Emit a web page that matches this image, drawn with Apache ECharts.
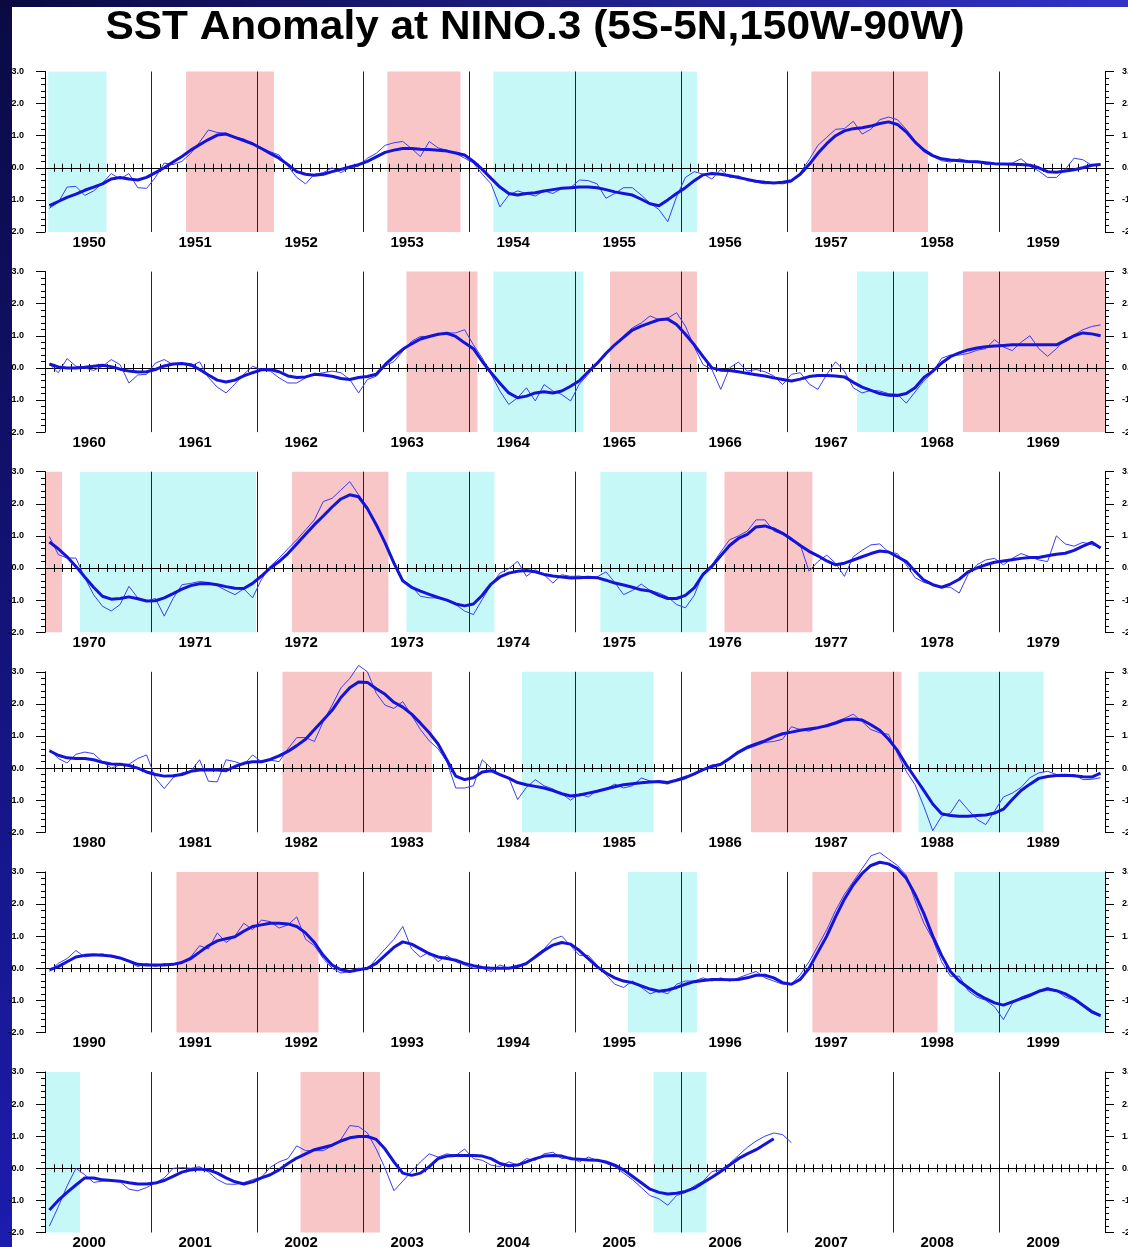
<!DOCTYPE html>
<html><head><meta charset="utf-8">
<script src="https://cdn.jsdelivr.net/npm/echarts@6/dist/echarts.min.js"></script>
<style>html,body{margin:0;padding:0;background:#fff;}#c{width:1128px;height:1247px;}</style>
</head><body><div id="c"></div>
<script>
const decades = [1950, 1960, 1970, 1980, 1990, 2000];
const yearLabels = ['1950','1951','1952','1953','1954','1955','1956','1957','1958','1959',
'1960','1961','1962','1963','1964','1965','1966','1967','1968','1969',
'1970','1971','1972','1973','1974','1975','1976','1977','1978','1979',
'1980','1981','1982','1983','1984','1985','1986','1987','1988','1989',
'1990','1991','1992','1993','1994','1995','1996','1997','1998','1999',
'2000','2001','2002','2003','2004','2005','2006','2007','2008','2009'];
const warmEvents = [[1951.33,1952.16],[1953.23,1953.92],[1957.23,1958.33],[1963.41,1964.08],[1965.33,1966.15],[1968.66,1970.16],[1972.33,1973.24],[1976.41,1977.24],[1982.24,1983.65],[1986.66,1988.08],[1991.24,1992.58],[1997.24,1998.42],[2002.41,2003.16]];
const coldEvents = [[1950.03,1950.58],[1954.23,1956.15],[1964.23,1965.08],[1967.66,1968.33],[1970.33,1971.99],[1973.41,1974.24],[1975.24,1976.24],[1984.5,1985.74],[1988.24,1989.42],[1995.5,1996.15],[1998.58,2000.33],[2005.74,2006.24]];

// monthly SST anomaly (thin line)
const sst1950s = [-1.26,-1.08,-0.6,-0.58,-0.86,-0.72,-0.48,-0.18,-0.35,-0.18,-0.62,-0.64,
-0.3,0.15,0.1,0.2,0.45,0.8,1.18,1.1,1.08,0.95,0.9,0.72,
0.62,0.5,0.4,0.05,-0.3,-0.5,-0.2,-0.15,0.0,-0.15,0.0,0.05,
0.3,0.45,0.7,0.78,0.82,0.6,0.35,0.82,0.62,0.55,0.45,0.3,
0.15,-0.2,-0.5,-1.22,-0.85,-0.72,-0.8,-0.88,-0.72,-0.8,-0.64,-0.62,
-0.38,-0.4,-0.5,-0.95,-0.8,-0.62,-0.62,-0.85,-1.1,-1.3,-1.68,-0.9,
-0.3,-0.12,-0.2,-0.35,-0.05,-0.3,-0.25,-0.4,-0.45,-0.5,-0.48,-0.5,
-0.45,-0.15,0.25,0.7,0.95,1.2,1.22,1.45,1.05,1.2,1.5,1.58,
1.5,1.2,0.85,0.5,0.35,0.22,0.18,0.28,0.2,0.2,0.1,0.12,
0.12,0.15,0.28,0.05,-0.1,-0.3,-0.3,-0.05,0.3,0.25,0.08,0.12];
const sst1960s = [0.12,-0.15,0.29,0.05,0.0,-0.08,0.05,0.26,0.1,-0.47,-0.22,-0.2,
0.15,0.26,0.1,0.12,0.05,0.19,-0.3,-0.6,-0.78,-0.5,-0.2,0.05,
-0.05,-0.1,-0.31,-0.47,-0.47,-0.31,-0.2,-0.15,-0.1,-0.15,-0.36,-0.78,
-0.36,-0.26,0.05,0.2,0.52,0.83,0.98,0.98,1.03,1.09,1.09,1.19,
0.72,0.31,-0.2,-0.72,-1.14,-0.93,-0.62,-1.03,-0.52,-0.72,-0.83,-1.03,
-0.5,-0.2,0.15,0.45,0.7,1.0,1.25,1.4,1.62,1.5,1.55,1.72,
1.3,0.65,0.1,-0.05,-0.67,0.0,0.18,-0.1,-0.05,-0.12,-0.25,-0.52,
-0.2,-0.15,-0.5,-0.67,-0.2,0.19,-0.1,-0.62,-0.78,-0.7,-0.72,-0.8,
-0.82,-1.1,-0.75,-0.4,-0.15,0.3,0.4,0.4,0.45,0.55,0.6,0.88,
0.65,0.54,0.8,1.0,0.6,0.36,0.6,0.9,1.03,1.19,1.29,1.34];
const sst1970s = [0.98,0.42,0.31,0.31,-0.3,-0.83,-1.19,-1.34,-1.14,-0.57,-0.93,-1.03,
-0.95,-1.5,-0.95,-0.52,-0.48,-0.42,-0.45,-0.55,-0.7,-0.83,-0.65,-0.93,
-0.36,0.05,0.31,0.6,0.88,1.19,1.5,2.07,2.17,2.43,2.69,2.28,
1.9,1.29,0.78,0.21,-0.36,-0.57,-0.88,-0.93,-0.93,-1.0,-1.14,-1.34,
-1.45,-0.98,-0.52,-0.16,-0.02,0.21,-0.26,-0.05,-0.21,-0.47,-0.21,-0.26,
-0.25,-0.3,-0.28,-0.12,-0.45,-0.83,-0.7,-0.5,-0.7,-0.78,-0.9,-1.14,
-1.24,-0.85,-0.15,0.1,0.5,0.88,1.0,1.15,1.5,1.5,1.15,1.05,
0.85,0.72,-0.1,0.2,0.4,0.15,-0.26,0.35,0.55,0.72,0.75,0.5,
0.45,0.1,-0.3,-0.45,-0.52,-0.6,-0.6,-0.78,-0.2,0.1,0.25,0.3,
0.1,0.3,0.45,0.35,0.25,0.2,1.0,0.75,0.68,0.8,0.72,0.65];
const sst1980s = [0.58,0.3,0.16,0.43,0.5,0.45,0.2,0.0,0.1,0.12,0.3,0.41,
-0.31,-0.64,-0.3,-0.15,-0.1,0.26,-0.41,-0.43,0.26,0.2,0.1,0.41,
0.2,0.25,0.2,0.6,0.95,0.95,0.83,1.45,1.96,2.5,2.79,3.2,
3.0,2.33,1.96,1.86,2.07,1.65,1.2,0.85,0.6,0.2,-0.62,-0.62,
-0.55,0.26,0.0,-0.2,-0.3,-0.98,-0.6,-0.36,-0.55,-0.65,-0.8,-1.0,
-0.8,-0.9,-0.7,-0.65,-0.5,-0.62,-0.55,-0.31,-0.4,-0.45,-0.5,-0.35,
-0.25,-0.2,-0.05,0.1,0.12,0.3,0.45,0.6,0.7,0.8,0.83,0.9,
1.29,1.2,1.15,1.25,1.35,1.45,1.55,1.68,1.45,1.2,1.1,1.05,
0.45,-0.1,-0.52,-1.2,-1.95,-1.5,-1.4,-0.98,-1.3,-1.6,-1.76,-1.34,
-0.9,-0.78,-0.6,-0.3,-0.15,-0.1,-0.2,-0.25,-0.2,-0.36,-0.35,-0.3];
const sst1990s = [-0.1,0.15,0.3,0.55,0.35,0.4,0.45,0.35,0.3,0.2,0.05,0.15,
0.05,0.15,0.1,0.2,0.35,0.7,0.6,1.1,0.8,1.0,1.4,1.2,
1.5,1.45,1.25,1.35,1.6,0.9,0.7,0.3,0.0,-0.15,-0.1,0.0,
-0.05,0.3,0.6,0.9,1.3,0.6,0.35,0.5,0.2,0.4,0.2,0.1,
0.0,0.0,-0.1,0.1,0.0,0.1,0.1,0.4,0.6,0.9,1.0,0.7,
0.4,0.4,0.1,-0.2,-0.5,-0.6,-0.4,-0.6,-0.8,-0.7,-0.8,-0.5,
-0.4,-0.4,-0.3,-0.4,-0.3,-0.4,-0.3,-0.2,-0.1,-0.3,-0.4,-0.5,
-0.5,-0.2,0.2,0.7,1.2,1.8,2.3,2.7,3.1,3.5,3.6,3.4,
3.2,2.9,2.1,1.4,0.9,0.2,-0.25,-0.25,-0.7,-0.9,-1.0,-1.2,
-1.6,-1.1,-0.9,-0.8,-0.7,-0.6,-0.7,-0.9,-1.0,-1.2,-1.4,-1.5];
const sst2000s = [-1.8,-1.2,-0.55,0.0,-0.2,-0.44,-0.4,-0.38,-0.42,-0.65,-0.7,-0.6,
-0.45,-0.3,0.0,0.02,0.0,0.05,-0.12,-0.35,-0.49,-0.5,-0.45,-0.35,
-0.28,0.03,0.2,0.3,0.7,0.55,0.55,0.55,0.7,0.9,1.33,1.3,
1.1,0.6,0.0,-0.7,-0.4,-0.1,0.2,0.45,0.35,0.45,0.4,0.6,
0.3,0.25,0.1,0.05,0.2,0.1,0.3,0.25,0.45,0.5,0.3,0.35,
0.2,0.35,0.25,0.15,0.05,-0.15,-0.35,-0.6,-0.85,-0.95,-1.15,-0.85,
-0.75,-0.55,-0.4,-0.1,-0.05,0.15,0.4,0.65,0.85,1.0,1.1,1.05,0.8];

// smoothed anomaly (thick line)
const smooth1950s = [-1.18,-1.05,-0.92,-0.82,-0.7,-0.6,-0.5,-0.35,-0.3,-0.35,-0.38,-0.3,
-0.15,0.0,0.18,0.35,0.55,0.72,0.88,1.02,1.05,0.95,0.85,0.75,
0.6,0.45,0.3,0.1,-0.12,-0.2,-0.23,-0.2,-0.12,-0.05,0.03,0.1,
0.2,0.34,0.48,0.55,0.6,0.6,0.58,0.57,0.55,0.52,0.46,0.4,
0.2,-0.05,-0.33,-0.6,-0.8,-0.85,-0.8,-0.78,-0.72,-0.68,-0.64,-0.62,
-0.6,-0.6,-0.62,-0.68,-0.75,-0.8,-0.85,-0.98,-1.12,-1.18,-1.0,-0.8,
-0.62,-0.4,-0.22,-0.18,-0.2,-0.25,-0.3,-0.36,-0.42,-0.45,-0.47,-0.45,
-0.4,-0.2,0.1,0.45,0.75,1.0,1.15,1.22,1.25,1.3,1.38,1.43,
1.35,1.12,0.8,0.55,0.38,0.28,0.24,0.22,0.2,0.19,0.16,0.13,
0.12,0.11,0.1,0.08,0.0,-0.12,-0.14,-0.1,-0.06,0.0,0.08,0.1];
const smooth1960s = [0.12,0.03,0.0,0.0,0.02,0.05,0.08,0.04,-0.04,-0.1,-0.13,-0.12,
-0.05,0.06,0.12,0.14,0.1,-0.05,-0.22,-0.38,-0.44,-0.38,-0.25,-0.15,
-0.06,-0.05,-0.12,-0.25,-0.3,-0.28,-0.2,-0.22,-0.26,-0.33,-0.36,-0.3,
-0.27,-0.2,0.1,0.35,0.58,0.75,0.9,0.98,1.05,1.08,0.98,0.78,
0.6,0.2,-0.15,-0.48,-0.78,-0.93,-0.88,-0.78,-0.74,-0.78,-0.72,-0.57,
-0.4,-0.12,0.14,0.45,0.72,0.95,1.18,1.3,1.4,1.5,1.52,1.35,
1.05,0.72,0.35,0.0,-0.07,-0.08,-0.12,-0.17,-0.21,-0.25,-0.31,-0.36,
-0.41,-0.35,-0.27,-0.24,-0.24,-0.25,-0.28,-0.45,-0.6,-0.7,-0.8,-0.85,
-0.86,-0.8,-0.62,-0.3,-0.1,0.15,0.35,0.47,0.56,0.62,0.66,0.68,
0.7,0.72,0.72,0.72,0.72,0.72,0.72,0.85,1.0,1.09,1.06,1.0];
const smooth1970s = [0.81,0.6,0.35,0.05,-0.28,-0.6,-0.88,-0.97,-0.95,-0.9,-0.96,-1.03,
-1.02,-0.93,-0.8,-0.66,-0.55,-0.49,-0.48,-0.52,-0.58,-0.63,-0.64,-0.48,
-0.25,0.0,0.2,0.45,0.75,1.05,1.35,1.62,1.9,2.15,2.28,2.22,
1.85,1.35,0.78,0.15,-0.4,-0.6,-0.72,-0.82,-0.92,-1.0,-1.12,-1.18,
-1.12,-0.85,-0.5,-0.28,-0.16,-0.1,-0.08,-0.12,-0.2,-0.25,-0.28,-0.31,
-0.3,-0.29,-0.3,-0.38,-0.47,-0.53,-0.6,-0.68,-0.72,-0.85,-0.95,-0.95,
-0.85,-0.62,-0.2,0.05,0.38,0.7,0.92,1.05,1.28,1.31,1.22,1.08,
0.9,0.7,0.52,0.38,0.22,0.1,0.15,0.25,0.35,0.45,0.53,0.5,
0.35,0.2,-0.1,-0.38,-0.52,-0.6,-0.5,-0.35,-0.12,0.0,0.1,0.18,
0.22,0.26,0.3,0.33,0.33,0.38,0.43,0.46,0.55,0.68,0.8,0.62];
const smooth1980s = [0.54,0.4,0.32,0.3,0.3,0.26,0.18,0.13,0.12,0.08,0.0,-0.12,
-0.2,-0.25,-0.24,-0.2,-0.1,-0.06,-0.05,-0.06,-0.08,0.05,0.15,0.2,
0.2,0.27,0.38,0.52,0.7,0.9,1.2,1.5,1.8,2.2,2.5,2.68,
2.67,2.47,2.3,2.05,1.9,1.68,1.4,1.1,0.75,0.25,-0.25,-0.36,
-0.3,-0.12,-0.08,-0.2,-0.31,-0.45,-0.52,-0.57,-0.62,-0.7,-0.8,-0.87,
-0.84,-0.78,-0.72,-0.65,-0.58,-0.52,-0.49,-0.46,-0.43,-0.42,-0.45,-0.38,
-0.3,-0.18,-0.05,0.05,0.12,0.3,0.5,0.65,0.75,0.85,0.97,1.07,
1.12,1.18,1.22,1.26,1.32,1.4,1.5,1.53,1.5,1.35,1.18,0.9,
0.55,0.1,-0.3,-0.7,-1.12,-1.42,-1.48,-1.5,-1.5,-1.48,-1.46,-1.4,
-1.28,-0.98,-0.7,-0.5,-0.32,-0.26,-0.23,-0.22,-0.24,-0.27,-0.28,-0.16];
const smooth1990s = [-0.05,0.05,0.2,0.35,0.4,0.42,0.4,0.38,0.32,0.22,0.12,0.1,
0.1,0.1,0.12,0.18,0.3,0.5,0.7,0.85,0.92,0.98,1.15,1.3,
1.35,1.4,1.4,1.38,1.3,1.1,0.8,0.4,0.1,-0.05,-0.1,-0.05,
0.0,0.15,0.4,0.65,0.82,0.75,0.6,0.45,0.35,0.3,0.25,0.15,
0.08,0.02,0.0,0.0,0.0,0.05,0.15,0.35,0.55,0.72,0.8,0.75,
0.55,0.3,0.05,-0.15,-0.3,-0.4,-0.45,-0.55,-0.65,-0.72,-0.68,-0.6,
-0.5,-0.42,-0.38,-0.35,-0.35,-0.36,-0.35,-0.3,-0.22,-0.22,-0.3,-0.45,
-0.5,-0.35,0.0,0.5,1.0,1.6,2.15,2.6,2.95,3.2,3.3,3.25,
3.1,2.8,2.3,1.7,1.0,0.4,-0.1,-0.4,-0.6,-0.8,-0.95,-1.08,
-1.15,-1.05,-0.95,-0.85,-0.72,-0.65,-0.7,-0.8,-0.95,-1.15,-1.35,-1.48];
const smooth2000s = [-1.3,-1.0,-0.75,-0.52,-0.3,-0.3,-0.36,-0.38,-0.4,-0.45,-0.49,-0.49,
-0.46,-0.38,-0.25,-0.12,-0.05,-0.02,-0.05,-0.15,-0.3,-0.42,-0.49,-0.42,
-0.3,-0.2,-0.05,0.15,0.32,0.45,0.58,0.65,0.72,0.85,0.95,0.99,
0.99,0.9,0.6,0.2,-0.15,-0.22,-0.15,0.05,0.3,0.38,0.4,0.4,
0.4,0.38,0.3,0.15,0.08,0.1,0.2,0.3,0.38,0.4,0.38,0.3,
0.28,0.26,0.25,0.2,0.1,-0.05,-0.25,-0.45,-0.65,-0.75,-0.8,-0.78,
-0.72,-0.62,-0.45,-0.28,-0.1,0.1,0.3,0.45,0.58,0.75,0.92];

const thinSeries = [sst1950s, sst1960s, sst1970s, sst1980s, sst1990s, sst2000s];
const thickSeries = [smooth1950s, smooth1960s, smooth1970s, smooth1980s, smooth1990s, smooth2000s];

const WARM = '#f8c6c6', COLD = '#c6f8f8';
const labelMonths = [5,17,29,41,53,65,77,89,101,113];

const grids = [], xAxes = [], yAxes = [], series = [];
decades.forEach((d, k) => {
  grids.push({left: 45, width: 1060, top: 71.5 + 200.1 * k, height: 160.5, outerBoundsMode: 'none', containLabel: false});
  const xb = {gridIndex: k, type: 'value', min: 0, max: 120, z: 1};
  const lineBlack = {color: '#000', width: 1};
  xAxes.push(Object.assign({}, xb, {position: 'bottom', interval: 1,
    axisLine: {show: true, onZero: true, lineStyle: lineBlack},
    axisTick: {show: true, length: 4, lineStyle: lineBlack},
    axisLabel: {show: false}, splitLine: {show: false}}));
  xAxes.push(Object.assign({}, xb, {position: 'top', interval: 1,
    axisLine: {show: true, onZero: true, lineStyle: lineBlack},
    axisTick: {show: true, length: 4, lineStyle: lineBlack},
    axisLabel: {show: false}, splitLine: {show: false}}));
  xAxes.push(Object.assign({}, xb, {position: 'bottom', interval: 12,
    axisLine: {show: false, onZero: false}, axisTick: {show: false},
    splitLine: {show: true, lineStyle: {color: '#262626', width: 1}},
    axisLabel: {show: true, customValues: labelMonths, margin: 3,
      formatter: v => yearLabels[k * 10 + Math.floor(v / 12)],
      fontSize: 15, fontWeight: 'bold', color: '#000', fontFamily: 'Liberation Sans'}}));
  const yb = {gridIndex: k, type: 'value', min: -2, max: 3, interval: 1, z: 1,
    axisLine: {show: true, onZero: false, lineStyle: lineBlack},
    axisTick: {show: true, length: 9, lineStyle: lineBlack},
    minorTick: {show: true, splitNumber: 5, length: 4, lineStyle: lineBlack},
    splitLine: {show: false}};
  const lab = {formatter: v => v.toFixed(1), fontSize: 9, fontWeight: 'bold', color: '#000', fontFamily: 'Liberation Sans'};
  yAxes.push(Object.assign({}, yb, {position: 'left', axisLabel: Object.assign({}, lab, {margin: 21})}));
  yAxes.push(Object.assign({}, yb, {position: 'right', axisLabel: Object.assign({}, lab, {margin: 17})}));

  const ev = [];
  const clipEv = (list, kind) => list.forEach(([s, e]) => {
    const a = Math.max(s, d), b = Math.min(e, d + 10);
    if (b > a) ev.push([(a - d) * 12, (b - d) * 12, kind]);
  });
  clipEv(warmEvents, 1); clipEv(coldEvents, 0);
  series.push({type: 'custom', xAxisIndex: 3 * k, yAxisIndex: 2 * k, z: 0, silent: true,
    data: ev, encode: {x: [0, 1]},
    renderItem: (params, api) => {
      const p0 = api.coord([api.value(0), 3]);
      const p1 = api.coord([api.value(1), -2]);
      return {type: 'rect', shape: {x: p0[0], y: p0[1], width: p1[0] - p0[0], height: p1[1] - p0[1]},
        style: {fill: api.value(2) === 1 ? WARM : COLD}};
    }});
  series.push({type: 'line', xAxisIndex: 3 * k, yAxisIndex: 2 * k, z: 2, silent: true, clip: false,
    data: thinSeries[k].map((v, i) => [i + 0.5, v]), symbol: 'none',
    lineStyle: {color: '#3c3cf5', width: 1}});
  series.push({type: 'line', xAxisIndex: 3 * k, yAxisIndex: 2 * k, z: 3, silent: true, clip: false,
    data: thickSeries[k].map((v, i) => [i + 0.5, v]), symbol: 'none',
    lineStyle: {color: '#1414d8', width: 3}});
});

const chart = echarts.init(document.getElementById('c'), null, {renderer: 'canvas'});
chart.setOption({
  backgroundColor: '#ffffff',
  animation: false,
  grid: grids, xAxis: xAxes, yAxis: yAxes, series: series,
  graphic: [
    {type: 'rect', z: 0, shape: {x: 0, y: 0, width: 12, height: 1247},
      style: {fill: {type: 'linear', x: 0, y: 0, x2: 0, y2: 1, colorStops: [{offset: 0, color: '#0a0a44'}, {offset: 1, color: '#1c1cae'}]}}},
    {type: 'rect', z: 0, shape: {x: 0, y: 0, width: 1128, height: 7},
      style: {fill: {type: 'linear', x: 0, y: 0, x2: 1, y2: 0, colorStops: [{offset: 0, color: '#0a0a40'}, {offset: 1, color: '#3232c8'}]}}},
    {type: 'text', z: 10, x: 535, y: 28, scaleX: 1.06, scaleY: 1,
      style: {text: 'SST Anomaly at NINO.3 (5S-5N,150W-90W)', font: 'bold 40px "Liberation Sans"',
        fill: '#000', align: 'center', verticalAlign: 'middle', textAlign: 'center', textVerticalAlign: 'middle'}}
  ]
});
</script></body></html>
